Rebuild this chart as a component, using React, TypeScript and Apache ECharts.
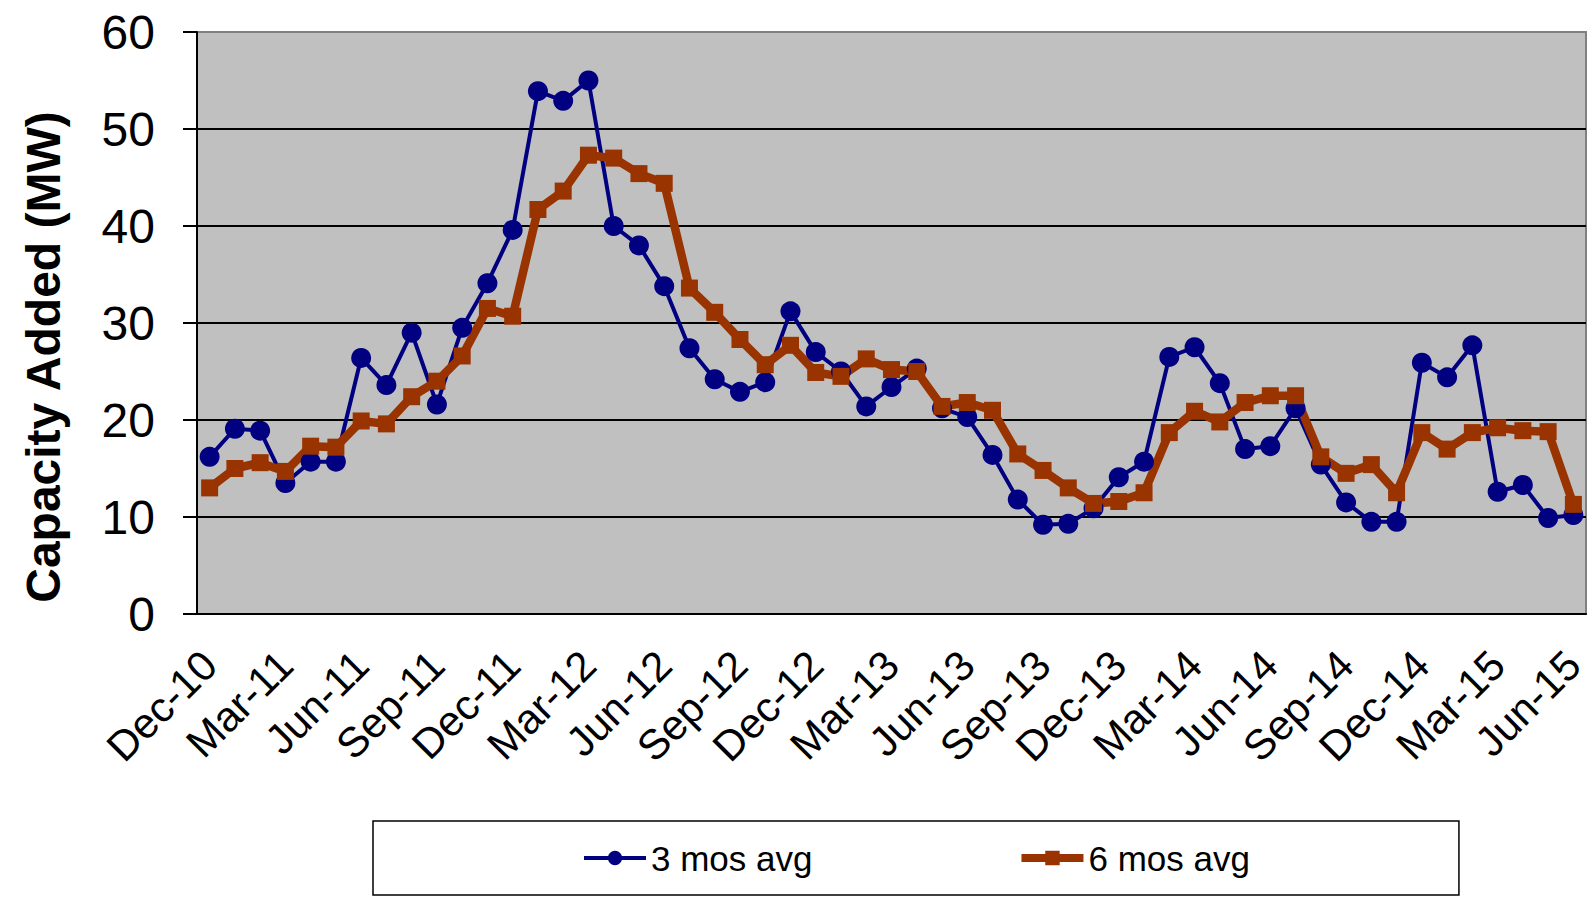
import React, { useEffect, useRef } from "react";
import * as echarts from "echarts";

const months: string[] = [
  "Dec-10",
  "Jan-11", "Feb-11", "Mar-11", "Apr-11", "May-11", "Jun-11", "Jul-11", "Aug-11", "Sep-11", "Oct-11", "Nov-11", "Dec-11",
  "Jan-12", "Feb-12", "Mar-12", "Apr-12", "May-12", "Jun-12", "Jul-12", "Aug-12", "Sep-12", "Oct-12", "Nov-12", "Dec-12",
  "Jan-13", "Feb-13", "Mar-13", "Apr-13", "May-13", "Jun-13", "Jul-13", "Aug-13", "Sep-13", "Oct-13", "Nov-13", "Dec-13",
  "Jan-14", "Feb-14", "Mar-14", "Apr-14", "May-14", "Jun-14", "Jul-14", "Aug-14", "Sep-14", "Oct-14", "Nov-14", "Dec-14",
  "Jan-15", "Feb-15", "Mar-15", "Apr-15", "May-15", "Jun-15",
];

const avg3: number[] = [
  16.2, 19.1, 18.9, 13.5, 15.7, 15.7, 26.4, 23.6, 29.0, 21.6,
  29.5, 34.1, 39.6, 53.9, 52.9, 55.0, 40.0, 38.0, 33.8, 27.4,
  24.2, 22.9, 23.9, 31.2, 27.0, 25.0, 21.4, 23.4, 25.3, 21.2,
  20.3, 16.4, 11.8, 9.2, 9.3, 10.9, 14.1, 15.7, 26.5, 27.5,
  23.8, 17.0, 17.3, 21.2, 15.4, 11.5, 9.5, 9.5, 25.9, 24.4,
  27.7, 12.6, 13.3, 9.9, 10.2,
];

const avg6: number[] = [
  13.0, 15.0, 15.6, 14.7, 17.3, 17.2, 19.9, 19.6, 22.4, 24.0,
  26.6, 31.5, 30.7, 41.7, 43.6, 47.3, 47.0, 45.4, 44.4, 33.6,
  31.1, 28.3, 25.7, 27.7, 24.9, 24.5, 26.3, 25.2, 25.0, 21.4,
  21.8, 21.0, 16.5, 14.8, 13.0, 11.4, 11.6, 12.5, 18.7, 20.9,
  19.8, 21.8, 22.5, 22.5, 16.2, 14.5, 15.4, 12.5, 18.7, 17.0,
  18.7, 19.2, 18.9, 18.8, 11.3,
];

const seriesNames: string[] = ["3 mos avg", "6 mos avg"];
const yTitle = "Capacity Added (MW)";

const FONT = "'Liberation Sans', Arial, Helvetica, sans-serif";
const BLUE = "#000080";
const RUST = "#993300";

export default function App() {
  const ref = useRef<HTMLDivElement>(null);

  useEffect(() => {
    if (!ref.current) return;
    const chart = echarts.init(ref.current, undefined, { renderer: "svg" });
    chart.setOption({
      animation: false,
      backgroundColor: "#ffffff",
      textStyle: { fontFamily: FONT },
      grid: {
        left: 197,
        right: 9,
        top: 32,
        bottom: 286,
        show: true,
        backgroundColor: "#C0C0C0",
        borderColor: "#808080",
        borderWidth: 2,
      },
      legend: {
        left: 373,
        top: 821,
        padding: [19, 209],
        itemGap: 205,
        itemWidth: 62,
        itemHeight: 18,
        borderColor: "#000",
        borderWidth: 1.5,
        data: [
          { name: seriesNames[0], lineStyle: { width: 4, color: BLUE }, itemStyle: { color: BLUE } },
          { name: seriesNames[1], lineStyle: { width: 8, color: RUST }, itemStyle: { color: RUST } },
        ],
        textStyle: { fontFamily: FONT, fontSize: 35, color: "#000", lineHeight: 36 },
      },
      xAxis: {
        type: "category",
        data: months,
        boundaryGap: true,
        axisLine: { lineStyle: { color: "#000", width: 2 } },
        axisTick: { interval: 2, length: 13, lineStyle: { color: "#000", width: 2 } },
        axisLabel: {
          interval: 2,
          rotate: 45,
          margin: 44,
          fontSize: 42,
          color: "#000",
          fontFamily: FONT,
        },
        splitLine: { show: false },
      },
      yAxis: {
        type: "value",
        min: 0,
        max: 60,
        interval: 10,
        axisLine: { show: true, lineStyle: { color: "#000", width: 2 } },
        axisTick: { show: true, length: 14, lineStyle: { color: "#000", width: 2 } },
        axisLabel: { margin: 42, fontSize: 48, color: "#000", fontFamily: FONT },
        splitLine: {
          show: true,
          showMaxLine: false,
          showMinLine: false,
          lineStyle: { color: "#000", width: 2 },
        },
      },
      graphic: [
        {
          type: "rect",
          shape: { x: 1583, y: 616, width: 12, height: 16 },
          style: { fill: "#ffffff" },
          z: 100,
        },
        {
          type: "text",
          x: 43,
          y: 357,
          rotation: Math.PI / 2,
          style: {
            text: yTitle,
            fontFamily: FONT,
            fontSize: 48,
            fontWeight: "bold",
            fill: "#000",
            textAlign: "center",
            textVerticalAlign: "middle",
          },
        },
      ],
      series: [
        {
          name: seriesNames[0],
          type: "line",
          data: avg3,
          symbol: "circle",
          symbolSize: 20,
          showAllSymbol: true,
          color: BLUE,
          itemStyle: { color: BLUE },
          lineStyle: { color: BLUE, width: 4 },
        },
        {
          name: seriesNames[1],
          type: "line",
          data: avg6,
          symbol: "rect",
          symbolSize: 17,
          showAllSymbol: true,
          color: RUST,
          itemStyle: { color: RUST },
          lineStyle: { color: RUST, width: 8.5 },
        },
      ],
    });
    return () => chart.dispose();
  }, []);

  return (
    <div
      ref={ref}
      style={{ position: "absolute", left: 0, top: 0, width: 1595, height: 900 }}
    />
  );
}
